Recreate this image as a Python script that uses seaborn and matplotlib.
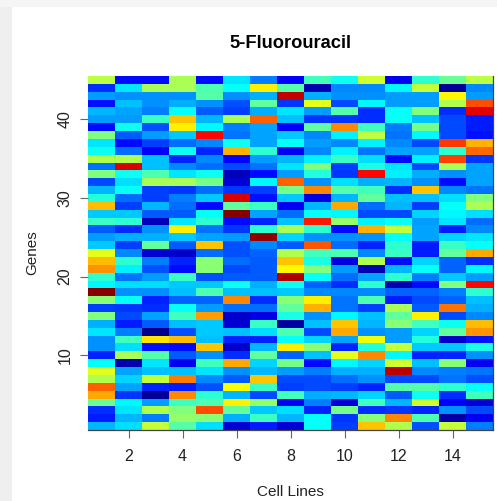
import matplotlib
matplotlib.use("Agg")
import matplotlib.pyplot as plt
from matplotlib.colors import LinearSegmentedColormap
import numpy as np
import seaborn as sns

plt.rcParams['font.family'] = ['Liberation Sans', 'DejaVu Sans']

title = "5-Fluorouracil"
xlabel = "Cell Lines"
ylabel = "Genes"
x_ticks = [2, 4, 6, 8, 10, 12, 14]
y_ticks = [10, 20, 30, 40]

# rows listed from gene 45 (top) to gene 1 (bottom)
rows_top_down = [
 [.56,.11,.11,.54,.11,.35,.24,.10,.44,.39,.58,.09,.42,.48,.56],
 [.15,.35,.54,.54,.45,.38,.64,.46,.04,.25,.25,.37,.57,.02,.25],
 [.27,.26,.26,.26,.46,.26,.29,.93,.29,.26,.26,.27,.27,.63,.27],
 [.12,.31,.26,.29,.26,.19,.47,.16,.60,.18,.37,.27,.27,.55,.80],
 [.30,.28,.24,.38,.20,.17,.29,.35,.27,.46,.15,.38,.50,.15,.90],
 [.27,.27,.43,.68,.30,.54,.78,.31,.16,.16,.15,.38,.31,.18,.13],
 [.11,.39,.19,.64,.37,.24,.28,.10,.47,.74,.44,.24,.49,.18,.13],
 [.50,.20,.27,.32,.87,.23,.28,.32,.25,.36,.56,.23,.37,.18,.12],
 [.35,.11,.17,.22,.25,.39,.28,.38,.27,.25,.36,.25,.18,.82,.70],
 [.39,.22,.10,.39,.14,.70,.42,.09,.25,.36,.23,.28,.28,.42,.77],
 [.55,.55,.31,.14,.25,.10,.27,.30,.36,.43,.34,.11,.36,.81,.16],
 [.23,.91,.31,.25,.22,.18,.23,.35,.50,.17,.40,.35,.18,.54,.28],
 [.50,.39,.45,.35,.39,.05,.11,.27,.41,.16,.87,.36,.29,.26,.28],
 [.18,.34,.54,.54,.49,.07,.37,.78,.26,.34,.29,.30,.26,.11,.28],
 [.30,.38,.17,.16,.22,.16,.17,.49,.74,.46,.44,.15,.68,.25,.23],
 [.41,.22,.17,.24,.32,.91,.12,.32,.08,.30,.47,.31,.31,.34,.50],
 [.69,.17,.30,.22,.11,.47,.43,.09,.30,.71,.22,.30,.17,.38,.54],
 [.32,.32,.20,.20,.38,.99,.28,.22,.38,.37,.18,.18,.33,.37,.34],
 [.43,.42,.05,.35,.42,.11,.14,.31,.85,.52,.36,.38,.27,.35,.22],
 [.20,.15,.26,.64,.23,.16,.42,.54,.42,.11,.70,.57,.28,.13,.25],
 [.27,.29,.29,.32,.28,.27,.98,.33,.26,.26,.26,.38,.28,.33,.35],
 [.32,.17,.47,.20,.68,.19,.25,.20,.79,.22,.14,.42,.13,.43,.38],
 [.60,.25,.07,.06,.22,.19,.21,.55,.44,.45,.25,.43,.13,.47,.71],
 [.69,.42,.24,.14,.51,.22,.20,.68,.40,.08,.55,.11,.33,.21,.15],
 [.73,.36,.19,.11,.51,.18,.20,.63,.50,.27,.04,.30,.38,.21,.37],
 [.42,.23,.27,.43,.19,.20,.20,.95,.38,.22,.28,.42,.24,.32,.27],
 [.37,.34,.34,.32,.32,.39,.29,.39,.21,.15,.42,.04,.11,.50,.87],
 [.99,.26,.26,.31,.45,.31,.31,.32,.25,.25,.25,.21,.21,.24,.42],
 [.51,.38,.14,.21,.21,.74,.15,.51,.64,.23,.45,.13,.18,.21,.31],
 [.17,.16,.15,.38,.27,.22,.22,.47,.70,.23,.17,.54,.20,.76,.29],
 [.50,.18,.28,.44,.72,.06,.08,.40,.26,.37,.31,.47,.64,.18,.25],
 [.29,.13,.20,.31,.32,.07,.43,.03,.31,.68,.30,.51,.44,.39,.69],
 [.35,.24,.01,.19,.32,.31,.34,.45,.18,.71,.26,.27,.33,.47,.73],
 [.26,.44,.65,.69,.31,.14,.14,.38,.33,.28,.61,.27,.41,.06,.12],
 [.26,.34,.12,.11,.68,.06,.30,.64,.51,.14,.41,.57,.32,.32,.40],
 [.14,.54,.46,.20,.26,.15,.47,.21,.31,.60,.74,.37,.14,.14,.26],
 [.38,.04,.35,.09,.44,.71,.33,.49,.11,.37,.33,.58,.31,.51,.09],
 [.59,.28,.31,.31,.35,.26,.30,.27,.24,.29,.29,.94,.25,.24,.23],
 [.55,.33,.57,.75,.25,.20,.68,.18,.18,.22,.26,.18,.18,.23,.19],
 [.78,.28,.14,.13,.19,.62,.43,.17,.18,.17,.14,.46,.46,.42,.38],
 [.71,.16,.02,.74,.42,.30,.18,.44,.29,.30,.33,.20,.39,.15,.44],
 [.48,.37,.27,.43,.45,.64,.52,.09,.24,.07,.44,.30,.58,.10,.07],
 [.15,.35,.55,.50,.80,.47,.32,.34,.14,.49,.15,.16,.14,.26,.18],
 [.13,.30,.24,.52,.51,.29,.43,.30,.38,.16,.51,.74,.45,.03,.09],
 [.30,.34,.57,.46,.34,.07,.13,.07,.38,.17,.68,.55,.19,.57,.24],
]

palette = LinearSegmentedColormap.from_list("jet_r_style", [
    (0.0, "#00007F"), (0.10, "#0000FF"), (0.24, "#007FFF"), (0.375, "#00FFFF"),
    (0.5, "#7FFF7F"), (0.625, "#FFFF00"), (0.75, "#FF7F00"), (0.875, "#FF0000"),
    (1.0, "#7F0000"),
], N=256)

W, H = 497, 501
fig = plt.figure(figsize=(W / 100, H / 100), dpi=100, facecolor="white")
fig.patches.append(plt.Rectangle((0, 0), 12 / W, 1, transform=fig.transFigure, color="#efefef", lw=0))
fig.patches.append(plt.Rectangle((0, 1 - 7 / H), 1, 7 / H, transform=fig.transFigure, color="#f5f5f5", lw=0))
ax = fig.add_axes([88 / W, 1 - 430 / H, 405 / W, 354 / H])

sns.heatmap(np.array(rows_top_down), cmap=palette, vmin=0, vmax=1, cbar=False, ax=ax,
            xticklabels=False, yticklabels=False)

ax.set_xticks([v - 0.5 for v in x_ticks])
ax.set_xticklabels([str(v) for v in x_ticks], fontsize=11.5, color="#222222")
ax.set_yticks([45 - v + 0.5 for v in y_ticks])
ax.set_yticklabels([str(v) for v in y_ticks], fontsize=11.5, rotation=90, va="center", color="#222222")
ax.tick_params(axis="both", length=6, width=0.8, color="#666666")
ax.tick_params(axis="x", pad=8)
ax.tick_params(axis="y", pad=5)
ax.set_xlabel(xlabel, fontsize=11, labelpad=15, color="#222222")
ax.set_ylabel(ylabel, fontsize=11, labelpad=13, color="#222222")
ax.set_title(title, fontsize=13.2, fontweight="bold", pad=20)
for s in ["bottom", "right"]:
    ax.spines[s].set_visible(True)
    ax.spines[s].set_linewidth(0.9)
    ax.spines[s].set_color("#444444")

fig.savefig("out.png", dpi=100)
